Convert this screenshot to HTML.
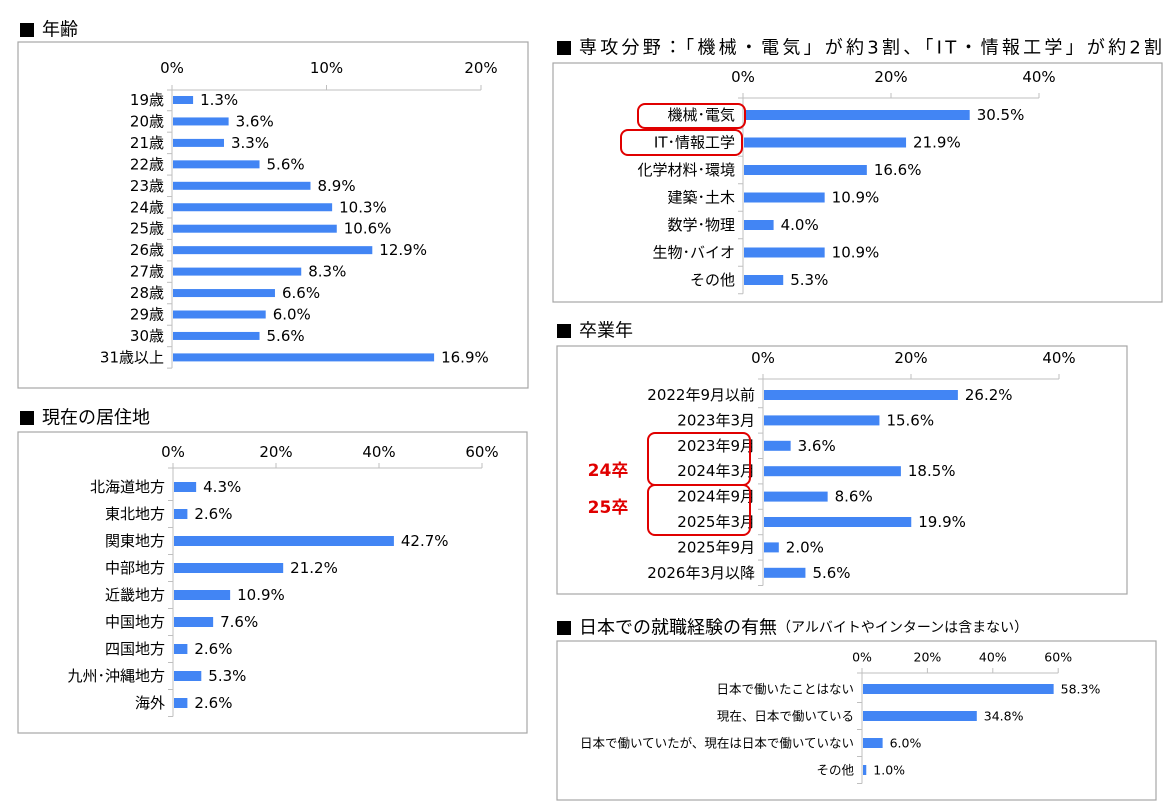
<!DOCTYPE html>
<html><head><meta charset="utf-8">
<style>
body{margin:0;background:#fff;width:1174px;height:802px;overflow:hidden;font-family:"DejaVu Sans","Noto Sans CJK JP",sans-serif;}
svg text{font-family:"DejaVu Sans","Noto Sans CJK JP",sans-serif;}
</style></head><body>
<svg id="s" width="1174" height="802" xmlns="http://www.w3.org/2000/svg"></svg>
<script>
const ageCats=["19歳","20歳","21歳","22歳","23歳","24歳","25歳","26歳","27歳","28歳","29歳","30歳","31歳以上"];
const ageVals=[1.3,3.6,3.3,5.6,8.9,10.3,10.6,12.9,8.3,6.6,6.0,5.6,16.9];
const ageTicks=[0,10,20];
const resCats=["北海道地方","東北地方","関東地方","中部地方","近畿地方","中国地方","四国地方","九州･沖縄地方","海外"];
const resVals=[4.3,2.6,42.7,21.2,10.9,7.6,2.6,5.3,2.6];
const resTicks=[0,20,40,60];
const majCats=["機械･電気","IT･情報工学","化学材料･環境","建築･土木","数学･物理","生物･バイオ","その他"];
const majVals=[30.5,21.9,16.6,10.9,4.0,10.9,5.3];
const majTicks=[0,20,40];
const gradCats=["2022年9月以前","2023年3月","2023年9月","2024年3月","2024年9月","2025年3月","2025年9月","2026年3月以降"];
const gradVals=[26.2,15.6,3.6,18.5,8.6,19.9,2.0,5.6];
const gradTicks=[0,20,40];
const workCats=["日本で働いたことはない","現在、日本で働いている","日本で働いていたが、現在は日本で働いていない","その他"];
const workVals=[58.3,34.8,6.0,1.0];
const workTicks=[0,20,40,60];

const S=document.getElementById('s');
const NS="http://www.w3.org/2000/svg";
function mk(tag,attrs,parent){const e=document.createElementNS(NS,tag);for(const k in attrs)e.setAttribute(k,attrs[k]);(parent||S).appendChild(e);return e;}
function txt(x,y,t,size,anchor,parent,fill,weight){const e=mk('text',{x:x,y:y,'font-size':size,'text-anchor':anchor||'start','dominant-baseline':'central',fill:fill||'#000'},parent);if(weight)e.setAttribute('font-weight',weight);e.textContent=t;return e;}

function chart(name,cfg,cats,vals,ticks){
  const g=mk('g',{});
  
  
  const box=mk('rect',{x:cfg.bx,y:cfg.by,width:cfg.bw,height:cfg.bh,fill:'#fff',stroke:'#a6a6a6','stroke-width':1.2},g);
  
  
  const sx=v=>cfg.x0+v*cfg.ppu;
  const rowY=i=>cfg.y0+i*cfg.step;
  const yTop=cfg.axisY, yBot=rowY(cats.length-1)+cfg.step/2;
  const xmax=sx(ticks[ticks.length-1]);
  mk('line',{x1:cfg.x0,y1:yTop,x2:xmax,y2:yTop,stroke:'#bfbfbf','stroke-width':1},g);
  mk('line',{x1:cfg.x0,y1:yTop,x2:cfg.x0,y2:yBot,stroke:'#bfbfbf','stroke-width':1},g);
  ticks.forEach(t=>{
    mk('line',{x1:sx(t),y1:yTop-5,x2:sx(t),y2:yTop,stroke:'#bfbfbf'},g);
    const tl=txt(sx(t),cfg.tickY,t+'%',cfg.fs,'middle',g);
    
    
  });
  for(let i=0;i<=cats.length;i++){
    const y=yTop+ (i===0?0:(rowY(i-1)+cfg.step/2-yTop));
    mk('line',{x1:cfg.x0-5,y1:y,x2:cfg.x0,y2:y,stroke:'#bfbfbf'},g);
  }
  cats.forEach((c,i)=>{
    const y=rowY(i);
    const l=txt(cfg.x0-8,y,c,cfg.fs,'end',g);
    
    
    const b=mk('rect',{x:cfg.x0+1,y:y-cfg.bh2/2,width:Math.max(1,sx(vals[i])-cfg.x0),height:cfg.bh2,fill:'#4285f4'},g);
    
    
    const v=txt(sx(vals[i])+8,y,vals[i].toFixed(1)+'%',cfg.fs,'start',g);
    
    
  });
}
function title(x,y,t,size,extra,len){
  mk('rect',{x:x,y:y-7,width:14,height:14,fill:'#000'});
  const e=txt(x+22,y,t,size,'start');
  
  
  if(len){e.setAttribute('textLength',len);e.setAttribute('lengthAdjust','spacing');}
  if(extra){const s=mk('tspan',{'font-size':14},e);s.textContent=extra;}
}
title(20,30,"年齢",18);
chart('age-chart',{bx:18,by:42,bw:510,bh:346,x0:172,ppu:15.45,axisY:90,tickY:68,y0:100,step:21.45,bh2:8,fs:15},ageCats,ageVals,ageTicks);
title(20,418,"現在の居住地",18);
chart('residence-chart',{bx:18,by:432,bw:509,bh:301,x0:173,ppu:5.15,axisY:468,tickY:452,y0:487,step:27,bh2:10,fs:15},resCats,resVals,resTicks);
title(557,48,"専攻分野：「機械・電気」が約3割、「IT・情報工学」が約2割",18,null,583);
chart('major-chart',{bx:553,by:63,bw:609,bh:239,x0:743,ppu:7.4,axisY:98,tickY:77,y0:115,step:27.5,bh2:10,fs:15},majCats,majVals,majTicks);
title(557,331,"卒業年",18);
chart('graduation-chart',{bx:557,by:346,bw:570,bh:248,x0:763,ppu:7.4,axisY:379,tickY:358,y0:395,step:25.4,bh2:10,fs:15},gradCats,gradVals,gradTicks);
title(557,628,"日本での就職経験の有無",18,"（アルバイトやインターンは含まない）");
chart('work-chart',{bx:557,by:641,bw:599,bh:159,x0:862,ppu:3.27,axisY:673,tickY:657,y0:689,step:27,bh2:10,fs:12.5},workCats,workVals,workTicks);
[[638,104,107,24],[621,130,121,25],[648,433,102,52],[648,485,102,50]].forEach(r=>{
  const e=mk('rect',{x:r[0],y:r[1],width:r[2],height:r[3],rx:7,fill:'none',stroke:'#e00000','stroke-width':2});
  
  
});
const a=txt(608,471,"24卒",17,'middle',S,'#e00000','bold');


const b=txt(608,508,"25卒",17,'middle',S,'#e00000','bold');


</script>
</body></html>
